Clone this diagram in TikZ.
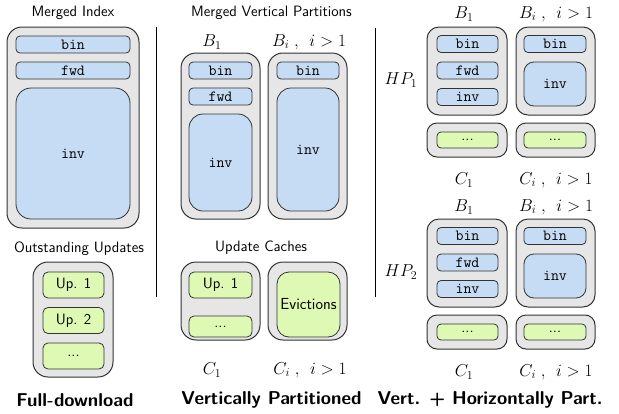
\documentclass[tikz,border=0pt]{standalone}
\usepackage{fontspec}
\usepackage{amsmath}
\usetikzlibrary{positioning}
\definecolor{boxgray}{HTML}{E6E6E6}
\definecolor{idxblue}{HTML}{C6DCF4}
\definecolor{updgreen}{HTML}{DDF9B3}
\definecolor{edge}{HTML}{333333}

\begin{document}
\begin{tikzpicture}[
  x=1pt, y=-1pt,
  every node/.style={font=\fontsize{15}{18}\selectfont\sffamily, inner sep=0pt},
  outer/.style={draw=edge, line width=1pt, fill=boxgray, rounded corners=15pt},
  idxbox/.style={draw=edge, line width=0.8pt, fill=idxblue, rounded corners=4pt,
                 font=\fontsize{15.5}{18}\selectfont\ttfamily},
  updbox/.style={draw=edge, line width=0.8pt, fill=updgreen, rounded corners=5pt},
  lbl/.style={font=\fontsize{17}{20}\selectfont},
  heading/.style={font=\fontsize{18.6}{22}\selectfont\sffamily\bfseries},
  sep/.style={line width=0.8pt}
]
\useasboundingbox (0,0) rectangle (619,413);

%% ---- Full-download (left) -------------------------------------------
\node (mititle) at (73,13) {Merged Index};
\node[outer, minimum width=132, minimum height=201] (mi) at (73,127.5) {};
\node[idxbox, minimum width=114, minimum height=17] (mibin) at (73,44.5) {bin};
\node[idxbox, minimum width=114, minimum height=17] (mifwd) at (73,70.5) {fwd};
\node[idxbox, rounded corners=15pt, minimum width=114, minimum height=131]
     (miinv) at (73,153.5) {inv};

\node (outitle) at (79,249) {Outstanding Updates};
\node[outer, minimum width=80, minimum height=115] (ou) at (73,319.5) {};
\node[updbox, minimum width=61, minimum height=26] (up1) at (73.5,285) {Up. 1};
\node[updbox, minimum width=61, minimum height=26] (up2) at (73.5,320.5) {Up. 2};
\node[updbox, minimum width=61, minimum height=26] (updots) at (73.5,356) {...};

\node[heading] (fdhead) at (75,400) {Full-download};

% separator
\coordinate (sepAtop) at (156,27);
\coordinate (sepAbot) at (156,297);
\draw[sep] (sepAtop) -- (sepAbot);

%% ---- Vertically partitioned (middle) --------------------------------
\node (mvtitle) at (271.5,13) {Merged Vertical Partitions};
\node[lbl] (vpB1) at (212,42) {$B_1$};
\node[lbl] (vpBi) at (309,42) {$B_i\;,\;\,i > 1$};

\node[outer, minimum width=79, minimum height=166] (vpb1) at (220.5,136) {};
\node[idxbox, minimum width=63, minimum height=17] (vpb1bin) at (220.5,70.5) {bin};
\node[idxbox, minimum width=63, minimum height=17] (vpb1fwd) at (220.5,96.5) {fwd};
\node[idxbox, rounded corners=14pt, minimum width=63, minimum height=97]
     (vpb1inv) at (220.5,162.5) {inv};

\node[outer, minimum width=79, minimum height=166] (vpbi) at (307.5,136) {};
\node[idxbox, minimum width=62, minimum height=17] (vpbibin) at (308,70.5) {bin};
\node[idxbox, rounded corners=14pt, minimum width=62, minimum height=123]
     (vpbiinv) at (308,149.5) {inv};

\node (uctitle) at (261,248) {Update Caches};
\node[outer, minimum width=79, minimum height=78] (vpc1) at (220.5,301) {};
\node[updbox, minimum width=63, minimum height=26] (vpc1up) at (220.5,285) {Up. 1};
\node[updbox, minimum width=63, minimum height=21] (vpc1dots) at (220.5,326.5) {...};
\node[outer, minimum width=79, minimum height=78] (vpci) at (307.5,301) {};
\node[updbox, rounded corners=12pt, minimum width=63, minimum height=65]
     (vpcievict) at (308.5,304.5) {\fontsize{16}{18}\selectfont Evictions};

\node[lbl] (vpC1) at (212,370) {$C_1$};
\node[lbl] (vpCi) at (310,370) {$C_i\;,\;\,i > 1$};

\node[heading] (vphead) at (271.5,400) {Vertically Partitioned};

% separator
\coordinate (sepBtop) at (375,28);
\coordinate (sepBbot) at (375,297);
\draw[sep] (sepBtop) -- (sepBbot);

%% ---- Vert. + horizontally partitioned, HP1 (top right) --------------
\begin{scope}
  \node[lbl] (hpaB1) at (464,14) {$B_1$};
  \node[lbl] (hpaBi) at (556,14) {$B_i\;,\;\,i > 1$};
  \node[lbl] (hpalbl) at (401,80) {$HP_1$};

  \node[outer, rounded corners=12pt, minimum width=80, minimum height=88] (hpab1) at (467,71) {};
  \node[idxbox, minimum width=61, minimum height=17] (hpab1bin) at (467.5,44) {bin};
  \node[idxbox, minimum width=61, minimum height=17] (hpab1fwd) at (467.5,70.5) {fwd};
  \node[idxbox, minimum width=61, minimum height=17] (hpab1inv) at (467.5,97) {inv};

  \node[outer, rounded corners=12pt, minimum width=79, minimum height=88] (hpabi) at (555.5,71) {};
  \node[idxbox, minimum width=62, minimum height=17] (hpabibin) at (555,44) {bin};
  \node[idxbox, rounded corners=10pt, minimum width=62, minimum height=44] (hpabiinv) at (555,84) {inv};

  \node[outer, rounded corners=10pt, minimum width=80, minimum height=34] (hpac1) at (467,140) {};
  \node[updbox, rounded corners=4pt, minimum width=61, minimum height=16] (hpac1dots) at (467.5,140) {...};
  \node[outer, rounded corners=10pt, minimum width=79, minimum height=34] (hpaci) at (555.5,140) {};
  \node[updbox, rounded corners=4pt, minimum width=62, minimum height=16] (hpacidots) at (555,140) {...};

  \node[lbl] (hpaC1) at (464,180) {$C_1$};
  \node[lbl] (hpaCi) at (556,180) {$C_i\;,\;\,i > 1$};
\end{scope}

%% ---- Vert. + horizontally partitioned, HP2 (bottom right) -----------
\begin{scope}[shift={(0,192)}]
  \node[lbl] (hpbB1) at (464,15) {$B_1$};
  \node[lbl] (hpbBi) at (556,15) {$B_i\;,\;\,i > 1$};
  \node[lbl] (hpblbl) at (401,80) {$HP_2$};

  \node[outer, rounded corners=12pt, minimum width=80, minimum height=88] (hpbb1) at (467,71) {};
  \node[idxbox, minimum width=61, minimum height=17] (hpbb1bin) at (467.5,44) {bin};
  \node[idxbox, minimum width=61, minimum height=17] (hpbb1fwd) at (467.5,70.5) {fwd};
  \node[idxbox, minimum width=61, minimum height=17] (hpbb1inv) at (467.5,97) {inv};

  \node[outer, rounded corners=12pt, minimum width=79, minimum height=88] (hpbbi) at (555.5,71) {};
  \node[idxbox, minimum width=62, minimum height=17] (hpbbibin) at (555,44) {bin};
  \node[idxbox, rounded corners=10pt, minimum width=62, minimum height=44] (hpbbiinv) at (555,84) {inv};

  \node[outer, rounded corners=10pt, minimum width=80, minimum height=34] (hpbc1) at (467,140) {};
  \node[updbox, rounded corners=4pt, minimum width=61, minimum height=16] (hpbc1dots) at (467.5,140) {...};
  \node[outer, rounded corners=10pt, minimum width=79, minimum height=34] (hpbci) at (555.5,140) {};
  \node[updbox, rounded corners=4pt, minimum width=62, minimum height=16] (hpbcidots) at (555,140) {...};

  \node[lbl] (hpbC1) at (464,180) {$C_1$};
  \node[lbl] (hpbCi) at (556,180) {$C_i\;,\;\,i > 1$};
\end{scope}

\node[heading] (hphead) at (490,400) {Vert. + Horizontally Part.};

\end{tikzpicture}
\end{document}
